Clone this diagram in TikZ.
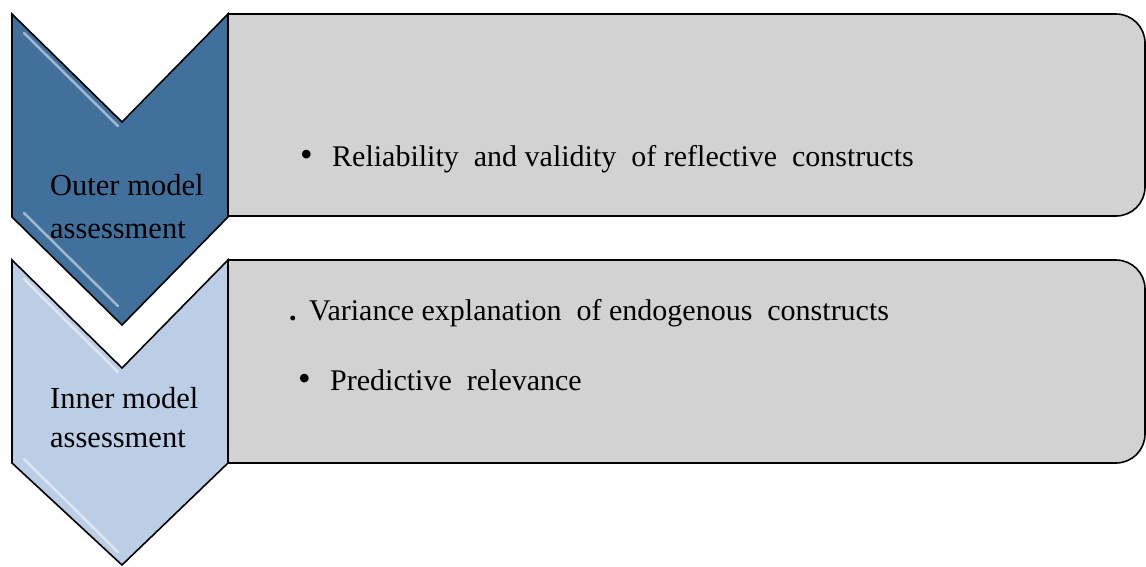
\documentclass[tikz,border=0pt]{standalone}
\usepackage{fontspec}
\setmainfont{Liberation Serif}
\newcommand{\wgap}{\hspace{0.5em}}
\begin{document}
\begin{tikzpicture}[x=1pt,y=-1pt,
  chevline/.style={draw=black,line width=1.6pt,line join=miter},
  outerfill/.style={fill={rgb,255:red,65;green,112;blue,156}},
  innerfill/.style={fill={rgb,255:red,187;green,206;blue,229}},
  bevel/.style={draw=white,line width=2.5pt,opacity=0.5,line cap=round},
  panel/.style={draw=black,line width=1.6pt,fill={rgb,255:red,210;green,210;blue,210}},
  lbl/.style={anchor=base west,inner sep=0pt,font=\fontsize{30.5}{36}\selectfont},
  item/.style={anchor=base west,inner sep=0pt,font=\fontsize{30}{36}\selectfont},
  dot/.style={anchor=base west,inner sep=0pt,font=\fontsize{36}{40}\selectfont}]
\useasboundingbox (0,0) rectangle (1146,566);

% second step (drawn first, lies below the first chevron)
\path[chevline,innerfill] (12,260) -- (122,368) -- (228,260) -- (228,463) -- (122,565) -- (12,463) -- cycle;
\draw[bevel] (24,279) -- (118,372);
\draw[bevel] (24,459) -- (118,552);
\path[panel] (228,260) -- (1116,260) arc[start angle=-90,end angle=0,radius=29] -- (1145,434) arc[start angle=0,end angle=90,radius=29] -- (228,463) -- cycle;

% first step
\path[panel] (228,14) -- (1116,14) arc[start angle=-90,end angle=0,radius=29] -- (1145,187) arc[start angle=0,end angle=90,radius=29] -- (228,216) -- cycle;
\path[chevline,outerfill] (12,14) -- (122,122) -- (228,14) -- (228,217) -- (122,325) -- (12,217) -- cycle;
\draw[bevel] (24,33) -- (118,126);
\draw[bevel] (24,213) -- (118,306);

% chevron labels
\node[lbl] (outer1) at (50,195) {Outer model};
\node[lbl] (outer2) at (50,238) {assessment};
\node[lbl] (inner1) at (50,408) {Inner model};
\node[lbl] (inner2) at (50,447) {assessment};

% panel contents
\node[dot] (b1) at (300,166) {\textbullet};
\node[item] (t1) at (332,166) {Reliability\wgap and validity\wgap of reflective\wgap constructs};
\node[item] (b2) at (289,320) {\textbf{.}};
\node[item] (t2) at (309,320) {Variance explanation\wgap of endogenous\wgap constructs};
\node[dot] (b3) at (298,390) {\textbullet};
\node[item] (t3) at (330,390) {Predictive\wgap relevance};
\end{tikzpicture}
\end{document}
